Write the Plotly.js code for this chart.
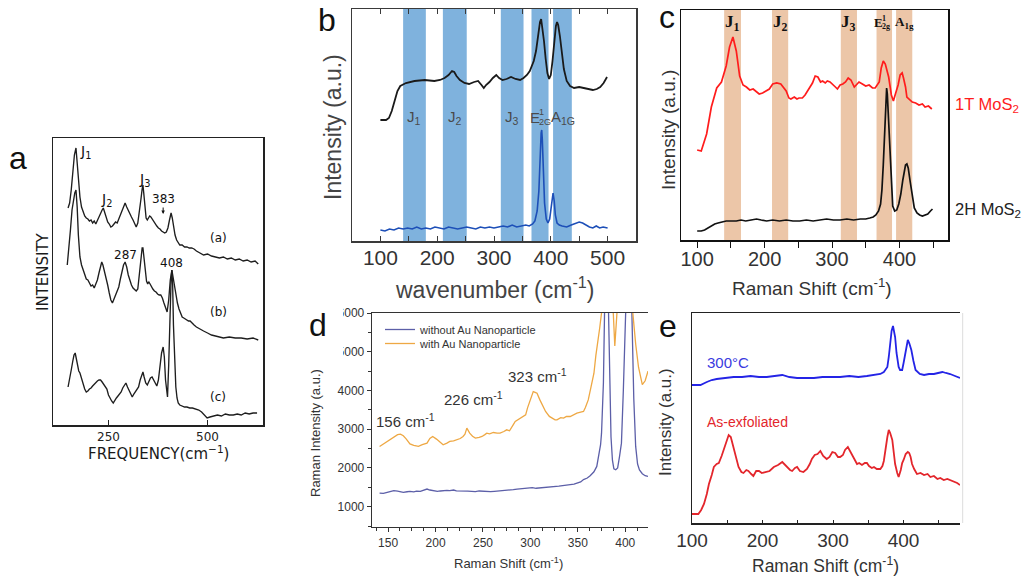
<!DOCTYPE html>
<html>
<head>
<meta charset="utf-8">
<script src="https://cdn.plot.ly/plotly-3.0.1.min.js"></script>
<style>
  html, body { margin: 0; padding: 0; background: #fff; }
  #chart { width: 1026px; height: 577px; }
</style>
</head>
<body>
<div id="chart"></div>
<script>
// ---------- Panel a: three Raman spectra, frequency in cm^-1 ----------
const aX1 = [148,152,156,160,164,168,171,174,178,182,186,190,194,198,202,206,210,214,218,222,226,230,234,237,240,244,248,252,256,260,264,268,272,276,280,284,288,292,296,300,304,308,312,316,320,324,328,332,335,337,339,342,345,348,351,354,357,360,364,368,372,376,380,384,388,392,396,400,404,408,411,414,418,422,426,430,436,442,448,454,460,466,472,480,490,500,510,520,530,540,550,560,570,580,590,600,610,620,628];
const aY1 = [217,222,235,255,270,277,262,242,228,218,213,209,207,206,204,205,202,204,201,205,208,212,215,217,213,208,203,201,198,199,201,203,202,206,210,215,220,222,218,214,210,208,205,201,198,202,212,226,236,240,232,218,207,205,208,209,208,206,203,201,199,197,196,194,193,192,193,197,205,212,207,198,190,185,182,180,180,178,178,177,177,176,174,172,170,171,169,168,167,168,166,167,165,166,164,165,163,164,161];
const aX2 = [146,150,154,158,162,165,168,171,174,178,182,186,190,194,198,202,206,210,214,218,222,226,230,233,236,240,244,248,252,256,260,264,268,272,276,280,284,288,292,296,300,304,308,312,316,320,324,328,332,335,337,340,343,346,349,352,355,358,362,366,370,374,378,382,386,390,394,398,402,406,410,413,416,420,424,428,432,436,440,444,448,452,456,460,466,472,480,490,500,510,520,530,540,555,570,585,600,615,628];
const aY2 = [160,175,195,215,228,232,235,218,190,168,160,155,150,146,145,141,139,140,137,141,145,152,160,163,160,154,148,140,132,125,122,126,130,132,138,146,154,160,163,158,150,144,140,137,135,134,136,150,168,177,177,165,150,144,141,143,141,138,136,134,133,131,130,130,127,122,117,113,125,145,155,148,138,130,122,116,111,108,107,106,105,104,104,102,100,98,96,94,92,90,89,88,87,88,87,87,86,87,85];
const aX3 = [148,152,156,160,163,166,169,172,175,178,182,186,190,194,198,202,206,210,214,218,222,226,230,234,238,242,246,250,254,258,262,266,270,274,278,282,286,290,294,298,302,306,310,314,318,322,326,330,334,337,340,344,348,352,356,360,364,368,372,376,380,384,388,391,394,397,399,402,405,408,410,412,414,416,418,420,423,426,430,436,442,448,455,462,470,478,485,492,499,506,515,525,535,545,555,565,575,585,595,605,615,625];
const aY3 = [38,45,55,64,70,72,66,58,54,52,46,40,36,33,34,36,37,39,41,43,44,45,45,43,41,38,36,30,26,24,22,25,27,29,31,33,37,40,42,38,34,30,28,31,33,35,38,45,51,53,48,42,40,44,47,48,45,41,39,45,58,72,78,68,45,30,28,60,110,145,155,140,100,70,52,38,27,22,20,19,18,18,17,17,16,15,13,10,7,8,9,10,9,11,10,10,11,10,12,11,12,12];
const aTicks = [250, 500];

// ---------- Panel b: wavenumber spectra with mode bands ----------
const bX1 = [100,110,115,120,125,130,135,145,160,178,195,205,213,220,226,230,234,240,248,256,265,272,278,282,286,292,298,304,309,315,322,330,338,346,352,358,363,367,370,374,378,381,383,385,388,391,394,397,400,403,406,409,411,413,416,419,423,428,434,441,450,458,466,474,481,487,493,499];
const bY1 = [121,121,123,130,140,150,155,158,160,161,160,161,163,166,170,169,165,161,158,157,159,160,156,153,156,159,163,166,163,161,162,164,162,161,163,166,170,176,180,190,208,219,222,215,200,182,168,162,166,180,200,215,219,216,205,188,172,160,155,153,154,153,152,151,152,154,158,164];
const bX2 = [100,108,116,124,132,140,148,156,164,172,180,188,196,204,212,220,228,236,244,252,260,268,276,284,292,300,308,316,324,332,340,348,356,362,368,372,376,379,381,383,384,385,387,389,392,395,398,400,402,404,406,408,411,415,420,428,436,444,450,456,462,468,474,480,486,492,500];
const bY2 = [11,10,12,11,13,12,13,12,14,12,13,12,14,13,12,14,13,12,13,14,13,12,14,13,14,13,14,15,14,16,14,15,16,15,17,20,30,50,85,108,111,102,70,38,22,18,22,32,44,48,40,26,18,16,15,14,16,18,19,18,16,14,13,15,13,14,13];
const bBands = [[140,180],[210,252],[312,352],[366,396],[404,437]];
const bBandLabels = [
  { base: 'J', sub: '1' }, { base: 'J', sub: '2' }, { base: 'J', sub: '3' },
  { base: 'E', sup: '1', sub: '2G' }, { base: 'A', sub: '1G' }
];

// ---------- Panel c: 1T and 2H MoS2 ----------
const cX1 = [100,106,114,121,129,136,143,148,153,158,163,168,173,178,183,188,192,197,202,207,212,218,224,228,232,236,239,244,248,251,256,260,264,268,271,275,279,283,286,290,293,297,301,305,308,312,316,320,324,328,333,337,340,345,350,355,360,364,367,370,373,376,379,381,384,388,391,394,398,401,404,406,409,411,415,419,424,429,434,438,443,448];
const cY1 = [90,89,106,133,152,158,174,193,203,189,164,155,153,150,151,148,146,147,149,151,156,157,156,153,149,142,141,143,141,142,142,145,149,154,157,164,163,158,159,157,159,158,155,153,151,155,156,158,162,160,153,156,158,156,154,155,152,152,155,158,172,179,176,170,163,145,139,146,155,165,167,162,153,143,140,138,137,135,136,133,134,131];
const cX2 = [100,106,111,116,121,126,131,137,143,150,158,165,172,180,188,195,203,212,222,232,242,252,262,272,282,292,302,312,322,332,342,350,356,361,365,369,372,374,376,378,380,381,382,384,386,388,390,393,396,399,402,405,407,409,411,413,416,419,422,426,430,434,438,442,446,449];
const cY2 = [9,9,10,12,14,16,17,18,19,19,19,20,19,20,21,20,19,20,19,20,19,19,20,19,20,21,20,20,21,20,21,21,22,23,25,29,36,50,75,110,146,152,146,118,80,50,34,29,30,36,46,60,70,75,76,72,58,42,32,27,25,24,25,26,29,31];
const cBands = [[140,165],[211,235],[313,337],[366,389],[395,419]];
const cBandLabels = [
  { base: 'J', sub: '1' }, { base: 'J', sub: '2' }, { base: 'J', sub: '3' },
  { base: 'E', sup: '1', sub: '2g' }, { base: 'A', sub: '1g' }
];

// ---------- Panel d: with / without Au nanoparticles ----------
const dX1 = [141,145,149,152,156,160,163,166,170,173,177,180,184,188,191,194,198,202,205,208,212,215,219,222,226,230,234,238,242,246,250,254,258,262,266,270,274,278,282,286,290,294,298,302,306,310,314,318,322,326,330,334,338,342,346,350,353,356,360,363,367,370,372,374,375,377,378.5,380,381,382,383.5,385,386.5,388,390,392,394,396,398,400,402,403.5,405,407,409,411,413,415,418,421,424];
const dY1 = [1352,1345,1369,1390,1412,1400,1380,1369,1385,1395,1380,1400,1395,1440,1455,1430,1410,1395,1405,1420,1421,1415,1430,1410,1412,1395,1400,1395,1390,1405,1395,1380,1387,1395,1400,1412,1420,1430,1440,1455,1460,1470,1481,1490,1475,1481,1495,1500,1510,1524,1530,1545,1550,1567,1580,1610,1640,1700,1739,1800,1900,2039,2300,2600,2898,4200,6500,8500,8600,6500,4200,2800,2200,1980,1953,2000,2300,2640,4000,6000,8000,8500,8000,6000,3800,2555,2100,1950,1850,1800,1780];
const dX2 = [141,145,149,152,156,160,163,166,169,173,177,182,186,191,194,197,201,205,208,212,215,219,222,226,229,231,233,236,239,242,246,249,252,254,257,261,265,268,272,275,278,280,282,284,287,289,292,295,297,300,302,303,305,307,310,313,316,320,323,326,328,332,335,338,342,346,349,353,356,358,361,364,367,369,371,373,375,378,381,384,387,389,391,394,398,402,405,408,411,414,418,421,424];
const dY2 = [2555,2620,2684,2740,2800,2860,2873,2830,2750,2620,2580,2555,2600,2640,2760,2812,2744,2650,2598,2640,2684,2700,2727,2760,2812,2870,3027,2898,2820,2770,2790,2812,2860,2898,2880,2915,2900,2898,2940,2984,2960,3027,3120,3199,3250,3285,3320,3371,3550,3757,3900,3972,3950,3929,3757,3600,3457,3330,3285,3240,3242,3300,3285,3330,3328,3390,3414,3440,3457,3560,3757,4100,4445,4900,5218,5600,6000,7300,8300,7800,6200,5150,5900,7500,8600,8400,7200,6000,5200,4600,4150,4250,4500];
const dNames = ['without Au Nanoparticle', 'with Au Nanoparticle'];
const dPeakLabels = ['156 cm<sup>-1</sup>', '226 cm<sup>-1</sup>', '323 cm<sup>-1</sup>'];

// ---------- Panel e: annealed vs as-exfoliated ----------
const eX1 = [100,112,121,128,135,147,159,171,183,195,206,217,228,238,249,261,273,285,297,310,323,336,348,358,367,372,377,379,381,383,385,386,388,390,393,395,398,400,403,405,406,408,411,414,417,423,429,436,443,449,455,460,466,473,480];
const eY1 = [138,138,141,143,144,145,146,146,147,146,146,147,148,146,145,145,145,146,146,146,147,146,147,148,149,151,156,166,183,192,197,194,186,170,156,153,153,160,173,181,183,180,173,162,153,149,148,149,149,150,151,150,149,147,145];
const eX2 = [100,109,113,117,121,124,128,131,135,138,142,145,149,152,155,159,163,166,170,173,177,180,184,187,191,195,199,204,210,216,222,228,232,235,239,242,246,249,253,258,263,267,270,274,278,282,286,291,295,299,303,307,310,314,317,321,324,327,330,334,337,341,345,348,351,355,358,362,367,370,372,374,377,379,381,384,386,388,391,393,396,398,400,403,406,408,410,412,415,419,424,429,434,438,443,448,452,457,462,466,471,476,480];
const eY2 = [9,9,13,19,29,39,48,56,59,60,67,74,82,88,86,76,64,56,51,50,53,52,49,47,52,52,50,51,52,56,58,61,58,56,53,52,55,56,52,51,54,59,64,68,69,72,67,64,66,71,70,66,66,68,73,76,72,67,64,59,60,58,60,60,57,55,56,54,54,57,62,73,86,93,90,83,70,59,50,46,53,60,63,69,71,70,66,59,54,49,50,48,49,46,47,44,45,43,44,43,42,40,38];

// ---------- helpers ----------
const W = 1026, H = 577;
const SANS = 'Liberation Sans, Arial, sans-serif';
const DJV = 'DejaVu Sans, sans-serif';
const SERIF = 'Liberation Serif, Times New Roman, serif';
const domX = (a, b) => [a / W, b / W];
const domY = (top, bot) => [1 - bot / H, 1 - top / H];

function label(px, py, text, size, color, family, extra) {
  return Object.assign({
    xref: 'paper', yref: 'paper', x: px / W, y: 1 - py / H,
    text: text, showarrow: false, xanchor: 'center', yanchor: 'middle',
    font: { size: size, color: color || '#222', family: family || SANS }
  }, extra || {});
}

function line(x, y, ax, color, width, extra) {
  return Object.assign({
    x: x, y: y, xaxis: 'x' + ax, yaxis: 'y' + ax, type: 'scatter', mode: 'lines',
    line: { color: color, width: width || 1.5 }, showlegend: false, hoverinfo: 'skip'
  }, extra || {});
}

const data = [
  line(aX1, aY1, '', '#1e1e1e', 1.35),
  line(aX2, aY2, '', '#1e1e1e', 1.35),
  line(aX3, aY3, '', '#1e1e1e', 1.35),
  line(bX1, bY1, '2', '#1a1a1a', 1.8),
  line(bX2, bY2, '2', '#1d4fb8', 1.6),
  line(cX1, cY1, '3', '#ff1c1c', 1.7),
  line(cX2, cY2, '3', '#111111', 1.7),
  line(dX1, dY1, '4', '#5c5fa8', 1.3, { name: dNames[0], showlegend: true, legend: 'legend' }),
  line(dX2, dY2, '4', '#eea844', 1.3, { name: dNames[1], showlegend: true, legend: 'legend2' }),
  line(eX1, eY1, '5', '#2424e6', 1.8),
  line(eX2, eY2, '5', '#e3262c', 1.8)
];
// panel a uses the primary axis pair
data[0].xaxis = data[1].xaxis = data[2].xaxis = 'x';
data[0].yaxis = data[1].yaxis = data[2].yaxis = 'y';

const noGrid = { showgrid: false, zeroline: false };
const legendStyle = (pyTop) => ({
  x: 380 / W, y: 1 - pyTop / H, xanchor: 'left', yanchor: 'top',
  bgcolor: 'rgba(0,0,0,0)', borderwidth: 0,
  font: { family: SANS, size: 11, color: '#333' }, itemwidth: 30
});

const layout = {
  width: W, height: H,
  margin: { l: 0, r: 0, t: 0, b: 0 },
  paper_bgcolor: '#ffffff', plot_bgcolor: 'rgba(0,0,0,0)',
  showlegend: true,
  legend: legendStyle(315),
  legend2: legendStyle(329),

  // panel a
  xaxis: Object.assign({}, noGrid, {
    domain: domX(53, 263), range: [110, 640], anchor: 'y',
    showline: true, linecolor: '#222', linewidth: 1.5, mirror: true,
    ticks: 'inside', ticklen: 5, tickcolor: '#222', tickvals: aTicks,
    tickfont: { family: DJV, size: 12, color: '#222' }
  }),
  yaxis: Object.assign({}, noGrid, {
    domain: domY(138, 425), range: [0, 287], anchor: 'x',
    showline: true, linecolor: '#222', linewidth: 1.5, mirror: true,
    showticklabels: false, ticks: ''
  }),

  // panel b
  xaxis2: Object.assign({}, noGrid, {
    domain: domX(352, 636), range: [50, 550], anchor: 'y2',
    showline: true, linecolor: '#3a3a3a', linewidth: 1.5, mirror: 'ticks',
    ticks: 'inside', ticklen: 5, tickcolor: '#3a3a3a', dtick: 100, tick0: 0,
    minor: { dtick: 50, tick0: 0, ticks: 'inside', ticklen: 5, tickcolor: '#3a3a3a' },
    ticklabelstandoff: -3,
    tickfont: { family: SANS, size: 21, color: '#333' }
  }),
  yaxis2: Object.assign({}, noGrid, {
    domain: domY(9, 241), range: [0, 232], anchor: 'x2',
    showline: true, linecolor: '#3a3a3a', linewidth: 1.5, mirror: true,
    showticklabels: false, ticks: ''
  }),

  // panel c
  xaxis3: Object.assign({}, noGrid, {
    domain: domX(681, 948), range: [76, 472], anchor: 'y3',
    showline: true, linecolor: '#111', linewidth: 1.5, mirror: true,
    ticks: 'outside', ticklen: 6, tickcolor: '#111', dtick: 100, tick0: 0,
    minor: { dtick: 50, tick0: 0, ticks: 'outside', ticklen: 6, tickcolor: '#111' },
    ticklabelstandoff: -6,
    tickfont: { family: SANS, size: 20, color: '#333' }
  }),
  yaxis3: Object.assign({}, noGrid, {
    domain: domY(10, 240), range: [0, 230], anchor: 'x3',
    showline: true, linecolor: '#111', linewidth: 1.5, mirror: true,
    showticklabels: false, ticks: ''
  }),

  // panel d
  xaxis4: Object.assign({}, noGrid, {
    domain: domX(372, 648), range: [133, 424], anchor: 'y4',
    showline: true, linecolor: '#333', linewidth: 1.3, mirror: true,
    ticks: 'outside', ticklen: 4, tickcolor: '#333', dtick: 50, tick0: 0,
    minor: { dtick: 12.5, tick0: 0, ticks: 'outside', ticklen: 2.5, tickcolor: '#333' },
    tickfont: { family: SANS, size: 12, color: '#333' }
  }),
  yaxis4: Object.assign({}, noGrid, {
    domain: domY(313, 527), range: [475, 6000], anchor: 'x4',
    showline: true, linecolor: '#333', linewidth: 1.3, mirror: false,
    ticks: 'outside', ticklen: 4, tickcolor: '#333', dtick: 1000, tick0: 0,
    minor: { dtick: 500, tick0: 0, ticks: 'outside', ticklen: 2.5, tickcolor: '#333' },
    tickfont: { family: SANS, size: 12, color: '#333' }
  }),

  // panel e
  xaxis5: Object.assign({}, noGrid, {
    domain: domX(692, 960), range: [100, 480], anchor: 'y5',
    showline: true, linecolor: '#222', linewidth: 1.5, mirror: true,
    ticks: 'inside', ticklen: 3, tickcolor: '#222', dtick: 100, tick0: 0,
    minor: { dtick: 50, tick0: 0, ticks: 'inside', ticklen: 3, tickcolor: '#222' },
    tickfont: { family: SANS, size: 19, color: '#333' }
  }),
  yaxis5: Object.assign({}, noGrid, {
    domain: domY(313, 523), range: [0, 210], anchor: 'x5',
    showline: true, linecolor: '#222', linewidth: 1.5, mirror: false,
    showticklabels: false, ticks: ''
  }),

  shapes: [],
  annotations: []
};

// mode bands behind the spectra
bBands.forEach(([lo, hi]) => layout.shapes.push({
  type: 'rect', xref: 'x2', yref: 'y2 domain', x0: lo, x1: hi, y0: 0, y1: 1,
  fillcolor: '#7fb2dd', line: { width: 0 }, layer: 'below'
}));
cBands.forEach(([lo, hi]) => layout.shapes.push({
  type: 'rect', xref: 'x3', yref: 'y3 domain', x0: lo, x1: hi, y0: 0, y1: 1,
  fillcolor: '#ecc6a8', line: { width: 0 }, layer: 'below'
}));
// faint right frame of panel e
layout.shapes.push({
  type: 'line', xref: 'x5 domain', yref: 'y5 domain', x0: 1.01, x1: 1.01, y0: 0, y1: 1,
  line: { color: '#dcdcdc', width: 1 }
});
// trimmed left edge of panel d tick labels
layout.shapes.push({
  type: 'rect', xref: 'paper', yref: 'paper', x0: 322 / W, x1: 343 / W,
  y0: 1 - 362 / H, y1: 1 - 298 / H, fillcolor: '#ffffff', line: { width: 0 }, layer: 'above'
});

const A = layout.annotations;

// band label: base letter, with stacked superscript / subscript to its right
function bandLabel(xref, xc, py, lab, size, color, family, bold) {
  const w = (s) => bold ? '<b>' + s + '</b>' : s;
  const small = Math.round(size * 0.6);
  if (!lab.sup) {
    A.push(Object.assign(label(0, py, w(lab.base + '<sub>' + lab.sub + '</sub>'), size, color, family),
      { xref: xref, x: xc }));
    return;
  }
  A.push(Object.assign(label(0, py, w(lab.base), size, color, family),
    { xref: xref, x: xc, xanchor: 'right', borderpad: 0, xshift: 2 }));
  A.push(Object.assign(label(0, py, w(lab.sup), small, color, family),
    { xref: xref, x: xc, xanchor: 'left', borderpad: 0, xshift: -1, yshift: size * 0.32 }));
  A.push(Object.assign(label(0, py, w(lab.sub), small, color, family),
    { xref: xref, x: xc, xanchor: 'left', borderpad: 0, xshift: -1, yshift: -size * 0.3 }));
}

// panel letters
A.push(label(18, 158, 'a', 32, '#111', SANS));
A.push(label(327, 20, 'b', 32, '#111', SANS));
A.push(label(667, 17, 'c', 32, '#111', SANS));
A.push(label(318, 325, 'd', 32, '#111', SANS));
A.push(label(668, 326, 'e', 32, '#111', SANS));

// panel a text
A.push(label(158, 453, 'FREQUENCY(cm<sup>−1</sup>)', 15, '#1a1a1a', DJV));
A.push(label(43, 272, 'INTENSITY', 15, '#1a1a1a', DJV, { textangle: -90 }));
const aRef = { xref: 'x', yref: 'y' };
A.push(Object.assign(label(0, 0, 'J<sub>1</sub>', 14, '#111', DJV), aRef, { x: 192, y: 273 }));
A.push(Object.assign(label(0, 0, 'J<sub>2</sub>', 14, '#111', DJV), aRef, { x: 245, y: 225 }));
A.push(Object.assign(label(0, 0, 'J<sub>3</sub>', 14, '#111', DJV), aRef, { x: 342, y: 245 }));
A.push(Object.assign(label(0, 0, '287', 12, '#111', DJV), aRef, { x: 292, y: 170 }));
A.push(Object.assign(label(0, 0, '408', 12, '#111', DJV), aRef, { x: 410, y: 162 }));
A.push({ xref: 'x', yref: 'y', x: 388, y: 211, ax: 0, ay: -15, text: '383', showarrow: true,
  arrowhead: 2, arrowsize: 0.7, arrowwidth: 1, arrowcolor: '#111', standoff: 0,
  font: { family: DJV, size: 12, color: '#111' } });
A.push(Object.assign(label(0, 0, '(a)', 12, '#111', DJV), aRef, { x: 527, y: 187 }));
A.push(Object.assign(label(0, 0, '(b)', 12, '#111', DJV), aRef, { x: 527, y: 113 }));
A.push(Object.assign(label(0, 0, '(c)', 12, '#111', DJV), aRef, { x: 527, y: 28 }));

// panel b text
A.push(label(494, 288, 'wavenumber (cm<sup>-1</sup>)', 23, '#444', SANS));
A.push(label(333, 127, 'Intensity (a.u.)', 23, '#444', SANS, { textangle: -90 }));
bBands.forEach(([lo, hi], i) => {
  const lab = bBandLabels[i];
  const xc = lab.sup ? 379.5 : (lab.base === 'A' ? hi - 15 : (lo + hi) / 2);
  bandLabel('x2', xc, 117, lab, 15, '#4a4a4a', SANS, false);
});

// panel c text
A.push(label(812, 287, 'Raman Shift (cm<sup>-1</sup>)', 19, '#333', SANS));
A.push(label(668, 130, 'Intensity (a.u.)', 19, '#333', SANS, { textangle: -90 }));
cBands.forEach(([lo, hi], i) => {
  const lab = cBandLabels[i];
  bandLabel('x3', lab.sup ? 374 : (lo + hi) / 2, 23, lab, i < 3 ? 17 : 13, '#111', SERIF, true);
});
A.push(label(953, 105, '1T MoS<sub>2</sub>', 16.5, '#ff1c1c', SANS, { xanchor: 'left' }));
A.push(label(953, 210, '2H MoS<sub>2</sub>', 16.5, '#222', SANS, { xanchor: 'left' }));

// panel d text
A.push(label(508, 563, 'Raman Shift (cm<sup>-1</sup>)', 13, '#333', SANS));
A.push(label(315, 433, 'Raman Intensity (a.u.)', 13, '#333', SANS, { textangle: -90 }));
A.push(label(405, 420, dPeakLabels[0], 15, '#333', SANS));
A.push(label(473, 398, dPeakLabels[1], 15, '#333', SANS));
A.push(label(537, 375, dPeakLabels[2], 15, '#333', SANS));

// panel e text
A.push(label(825, 565, 'Raman Shift (cm<sup>-1</sup>)', 17.5, '#333', SANS));
A.push(label(665, 422, 'Intensity (a.u.)', 17, '#333', SANS, { textangle: -90 }));
A.push(label(705, 362, '300°C', 15, '#3a3ae0', SANS, { xanchor: 'left' }));
A.push(label(705, 422, 'As-exfoliated', 14, '#e3262c', SANS, { xanchor: 'left' }));

Plotly.newPlot('chart', data, layout, { staticPlot: true, displayModeBar: false });
</script>
</body>
</html>
